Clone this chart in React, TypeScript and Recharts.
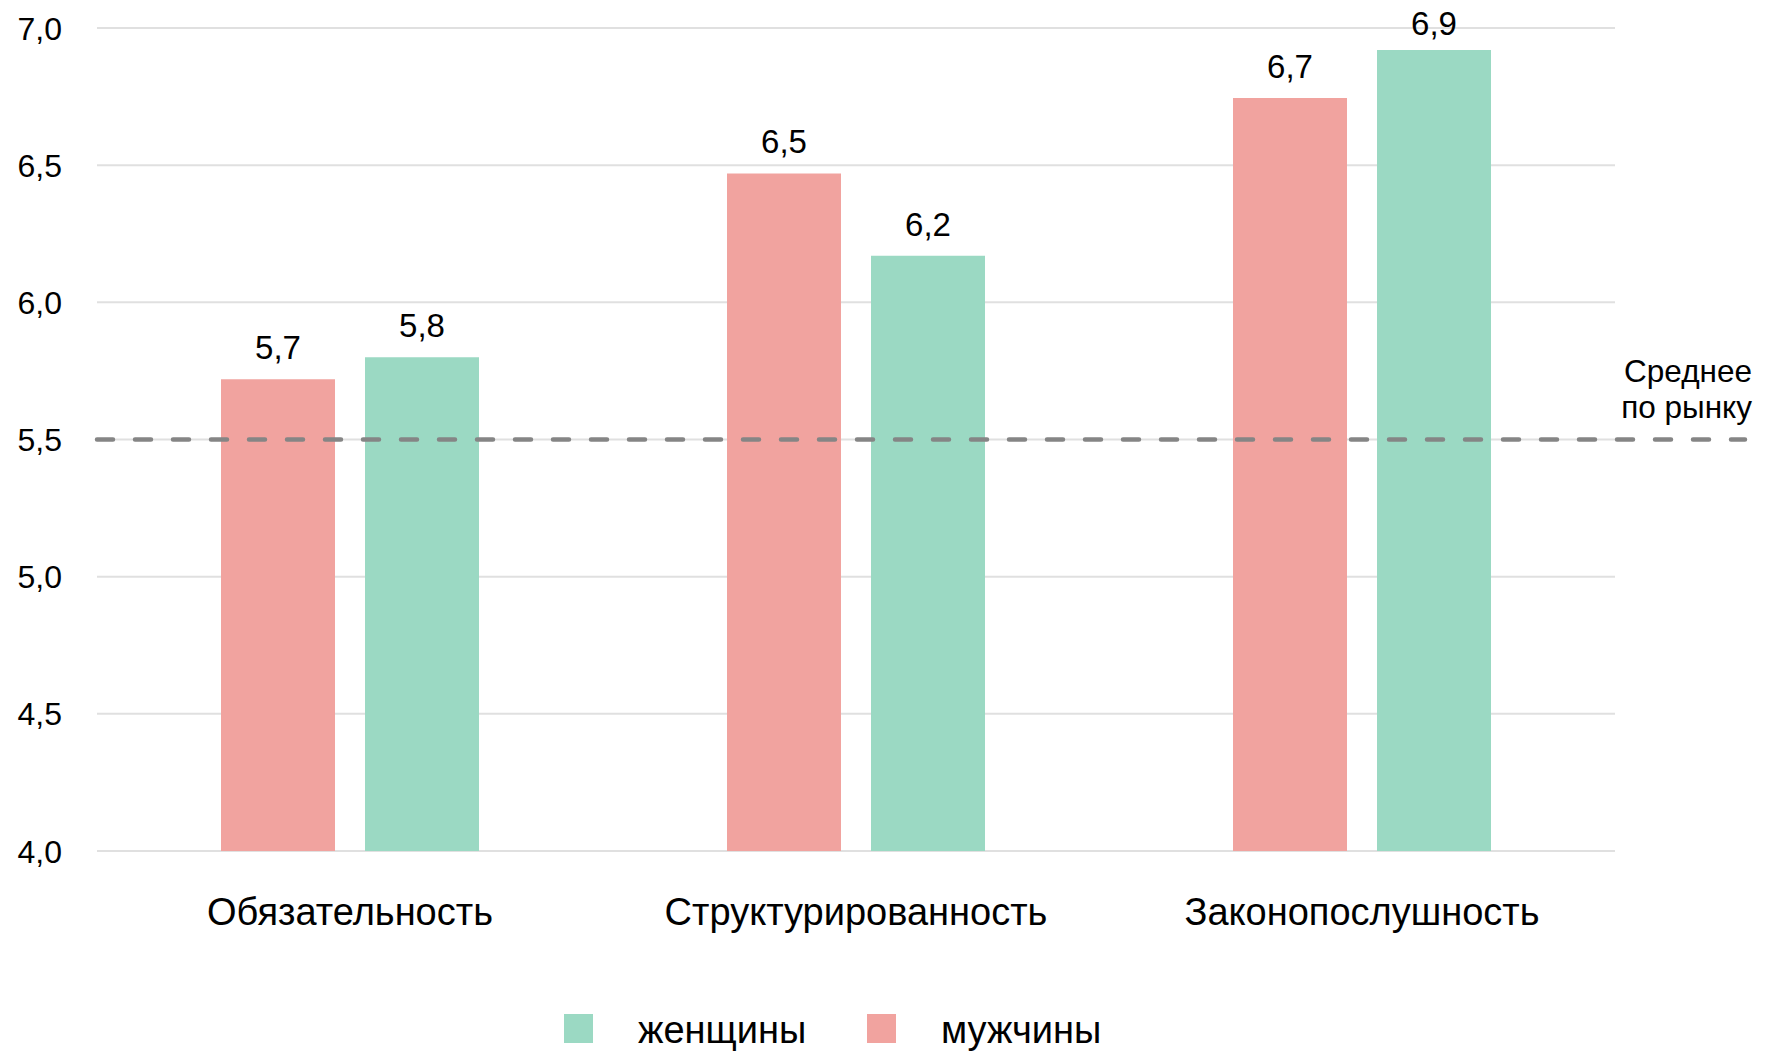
import {Bar, BarChart, CartesianGrid, LabelList, Legend, ReferenceLine, XAxis, YAxis} from "recharts";

const categories = ['Обязательность', 'Структурированность', 'Законопослушность'];
const menValues = [5.72, 6.47, 6.745];
const womenValues = [5.8, 6.17, 6.92];
const yTicks = [4, 4.5, 5, 5.5, 6, 6.5, 7];
const marketAverage = 5.5;
const averageLabel = ['Среднее', 'по рынку'];

const PINK = '#f1a39f';
const GREEN = '#9bd9c3';
const FONT = '"Liberation Sans", Arial, sans-serif';

const data = categories.map((name, i) => ({name, men: menValues[i], women: womenValues[i]}));

const legendItems = [
  {label: 'женщины', color: GREEN},
  {label: 'мужчины', color: PINK},
];

const fmt = (v: number) => v.toFixed(1).replace('.', ',');

function YTick({x, y, payload}: any) {
  return (
    <text x={x} y={y + 11.5} textAnchor="end" fontSize={32} fill="#000" fontFamily={FONT}>
      {fmt(payload.value)}
    </text>
  );
}

function XTick({x, y, payload}: any) {
  return (
    <text x={x} y={y + 74} textAnchor="middle" fontSize={38} fill="#000" fontFamily={FONT}>
      {payload.value}
    </text>
  );
}

// value above the bar, kept below the top edge of the chart
function ValueLabel({x, y, width, value}: any) {
  const baseline = Math.max(y - 20, 35);
  return (
    <text x={x + width / 2} y={baseline} textAnchor="middle" fontSize={33} fill="#000" fontFamily={FONT}>
      {fmt(Number(value))}
    </text>
  );
}

function AverageLine(p: any) {
  const tx = p.x2 + 137;
  return (
    <g>
      <line x1={p.x1} y1={p.y1} x2={p.x2 + 130} y2={p.y2} stroke="#858585" strokeWidth={4.5}
            strokeDasharray="16 22" strokeLinecap="round"/>
      <text x={tx} y={p.y1} textAnchor="end" fontSize={31.5} fill="#000" fontFamily={FONT}>
        <tspan x={tx} dy={-58}>{averageLabel[0]}</tspan>
        <tspan x={tx} dy={36}>{averageLabel[1]}</tspan>
      </text>
    </g>
  );
}

function LegendContent() {
  return (
    <div style={{display: 'flex', fontFamily: FONT, fontSize: 38, lineHeight: '38px', color: '#000'}}>
      {legendItems.map((item, i) => (
        <div key={item.label} style={{display: 'flex', width: i === 0 ? 303 : 'auto'}}>
          <div style={{width: 29, height: 29, marginTop: 3, background: item.color}}/>
          <span style={{marginLeft: 45}}>{item.label}</span>
        </div>
      ))}
    </div>
  );
}

export default function App() {
  return (
    <div style={{position: 'absolute', left: 0, top: 0, background: '#fff'}}>
      <BarChart width={1767} height={1051} data={data} margin={{top: 28, right: 152, left: 0, bottom: 0}}
                barSize={114} barGap={30}>
        <CartesianGrid vertical={false} stroke="#e0e0e0" strokeWidth={2}/>
        <XAxis dataKey="name" axisLine={false} tickLine={false} tickSize={0} tickMargin={0} height={200}
               tick={<XTick/>} interval={0}/>
        <YAxis domain={[4, 7]} ticks={yTicks} axisLine={false} tickLine={false} tickSize={0} tickMargin={35}
               width={97} tick={<YTick/>} interval={0}/>
        <Legend layout="horizontal" verticalAlign="middle" align="center" content={<LegendContent/>}
                wrapperStyle={{left: 564, top: 1011, width: 'auto'}}/>
        <Bar dataKey="men" name="мужчины" fill={PINK} isAnimationActive={false}>
          <LabelList dataKey="men" content={<ValueLabel/>}/>
        </Bar>
        <Bar dataKey="women" name="женщины" fill={GREEN} isAnimationActive={false}>
          <LabelList dataKey="women" content={<ValueLabel/>}/>
        </Bar>
        <ReferenceLine y={marketAverage} shape={<AverageLine/>}/>
      </BarChart>
    </div>
  );
}
